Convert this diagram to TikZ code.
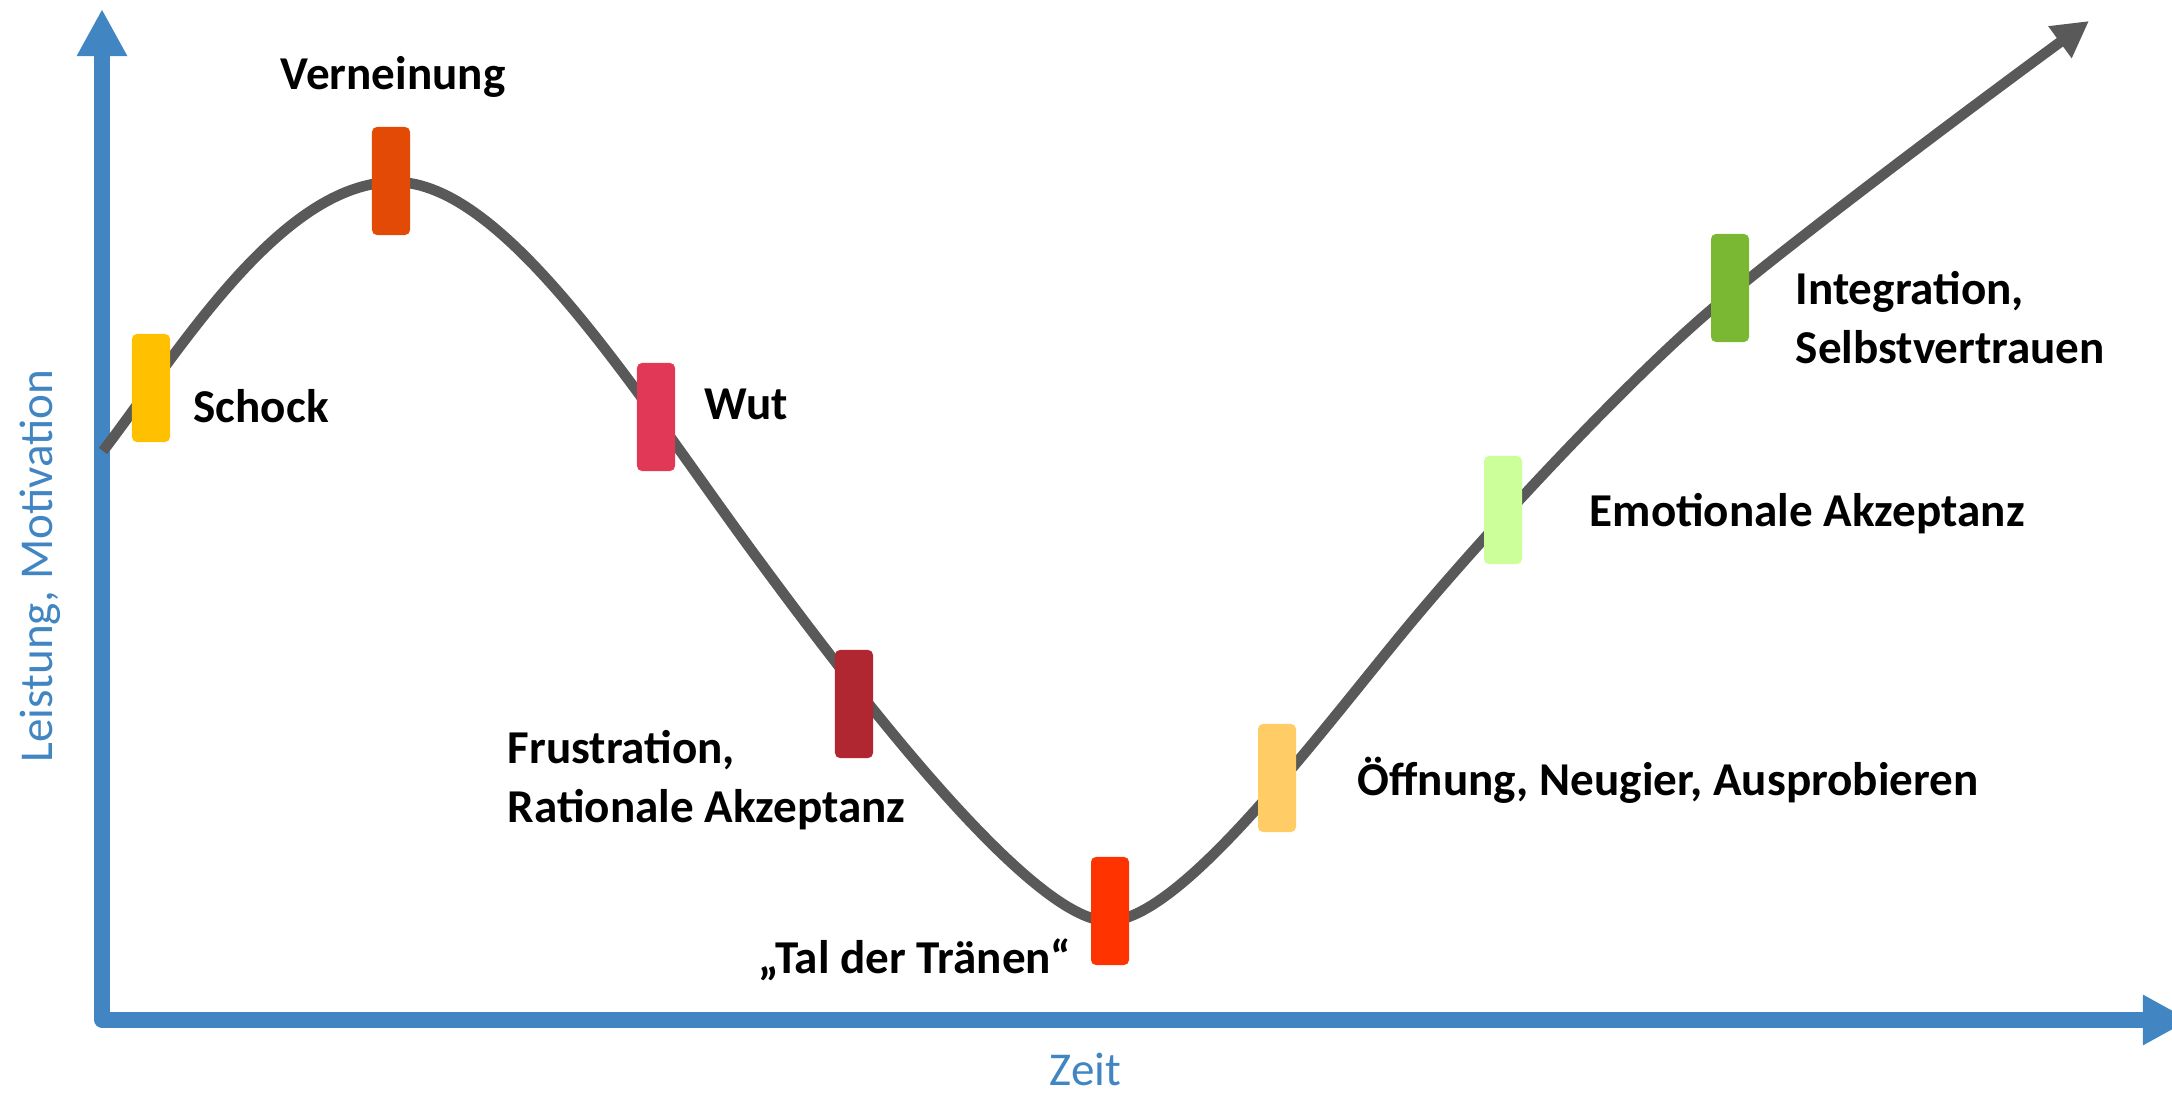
\documentclass[tikz,border=0pt]{standalone}
\usepackage{fontspec}
\setmainfont{Carlito}
\usetikzlibrary{arrows.meta}
\definecolor{axisblue}{HTML}{4186C2}
\definecolor{curvegray}{HTML}{595959}
\definecolor{cSchock}{HTML}{FFC000}
\definecolor{cVern}{HTML}{E24A05}
\definecolor{cWut}{HTML}{E03856}
\definecolor{cFrust}{HTML}{B02631}
\definecolor{cTal}{HTML}{FF3300}
\definecolor{cOeff}{HTML}{FFCC66}
\definecolor{cEmo}{HTML}{CCFF99}
\definecolor{cInt}{HTML}{7AB833}
\begin{document}
\begin{tikzpicture}[x=0.01cm,y=-0.01cm,
  axis/.style={draw=axisblue, line width=0.15cm, line join=round},
  curveline/.style={draw=curvegray, line width=0.105cm},
  marker/.style={rectangle, rounded corners=0.05cm, minimum width=0.38cm, minimum height=1.08cm, inner sep=0pt, draw=none},
  lbl/.style={font=\bfseries\fontsize{13.4}{16.5}\selectfont, inner sep=0pt, anchor=base west, text=black},
  axlbl/.style={font=\fontsize{13.4}{16}\selectfont, text=axisblue, inner sep=0pt, anchor=base west}]
\fill[white] (0,0) rectangle (2172,1095);
\useasboundingbox (0,0) rectangle (2172,1095);
% axes
\coordinate (ytip) at (102,9);
\coordinate (origin) at (102,1020);
\coordinate (xtip) at (2190,1020);
\draw[axis, {Triangle[length=0.47cm,width=0.47cm]}-{Triangle[length=0.47cm,width=0.47cm]}] (ytip) -- (origin) -- (xtip);
% curve
\coordinate (c0) at (103,451);
\coordinate (cpeak) at (395,182);
\coordinate (cdown) at (752,551);
\coordinate (cvalley) at (1108,921);
\coordinate (cup) at (1400,636);
\coordinate (chigh) at (1712,309);
\coordinate (ctip) at (2089,21);
\draw[curveline, -{Triangle[length=0.36cm,width=0.37cm]}] (c0)
  .. controls (176,356) and (280,182) .. (cpeak)
  .. controls (505,182) and (634,390) .. (cdown)
  .. controls (841,672) and (1028,921) .. (cvalley)
  .. controls (1178,921) and (1305,752) .. (cup)
  .. controls (1482,536) and (1628,380) .. (chigh)
  .. controls (1804,232) and (1992,92) .. (ctip);
% markers
\node[marker, fill=cSchock] (mSchock) at (151,388) {};
\node[marker, fill=cVern] (mVern) at (391,181) {};
\node[marker, fill=cWut] (mWut) at (656,417) {};
\node[marker, fill=cFrust] (mFrust) at (854,704) {};
\node[marker, fill=cTal] (mTal) at (1110,911) {};
\node[marker, fill=cOeff] (mOeff) at (1277,778) {};
\node[marker, fill=cEmo] (mEmo) at (1503,510) {};
\node[marker, fill=cInt] (mInt) at (1730,288) {};
% labels
\node[lbl] (tVern) at (280,90) {Verneinung};
\node[lbl] (tSchock) at (193,423) {Schock};
\node[lbl] (tWut) at (704,420) {Wut};
\node[lbl] (tFrust) at (507,764) {\begin{tabular}[t]{@{}l@{}}Frustration,\\Rationale Akzeptanz\end{tabular}};
\node[lbl] (tTal) at (758,974) {„Tal der Tränen“};
\node[lbl] (tOeff) at (1357,796) {Öffnung, Neugier, Ausprobieren};
\node[lbl] (tEmo) at (1589,527) {Emotionale Akzeptanz};
\node[lbl] (tInt) at (1795,305) {\begin{tabular}[t]{@{}l@{}}Integration,\\Selbstvertrauen\end{tabular}};
\node[axlbl] (tZeit) at (1049,1086) {Zeit};
\node[axlbl, rotate=90] (tLeist) at (52,763) {Leistung, Motivation};
\end{tikzpicture}
\end{document}
